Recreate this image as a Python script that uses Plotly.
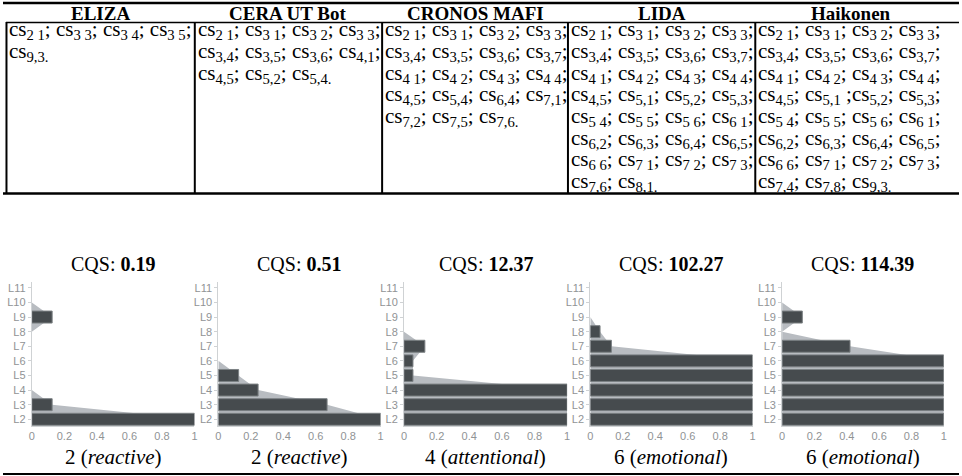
import plotly.graph_objects as go

W, H = 962, 476

# ---------------- data ----------------
systems = ["ELIZA", "CERA UT Bot", "CRONOS MAFI", "LIDA", "Haikonen"]
cqs_scores = [0.19, 0.51, 12.37, 102.27, 114.39]
cs_levels = [2, 2, 4, 6, 6]
cs_level_names = ["reactive", "reactive", "attentional", "emotional", "emotional"]

levels = ["L2", "L3", "L4", "L5", "L6", "L7", "L8", "L9", "L10", "L11"]
eliza_values = [1, 0.125, 0, 0, 0, 0, 0, 0.125, 0, 0]
cera_values = [1, 0.67, 0.245, 0.125, 0, 0, 0, 0, 0, 0]
cronos_values = [1, 1, 1, 0.055, 0.055, 0.128, 0, 0, 0, 0]
lida_values = [1, 1, 1, 1, 1, 0.13, 0.06, 0, 0, 0]
haikonen_values = [1, 1, 1, 1, 1, 0.42, 0, 0.125, 0, 0]

x_tick_values = [0, 0.2, 0.4, 0.6, 0.8, 1]
x_tick_labels = ["0", "0.2", "0.4", "0.6", "0.8", "1"]

eliza_cs = ["cs_{2 1}; cs_{3 3}; cs_{3 4}; cs_{3 5};",
            "cs_{9,3.}"]
cera_cs = ["cs_{2 1}; cs_{3 1}; cs_{3 2}; cs_{3 3};",
           "cs_{3,4}; cs_{3,5}; cs_{3,6}; cs_{4,1};",
           "cs_{4,5}; cs_{5,2}; cs_{5,4.}"]
cronos_cs = ["cs_{2 1}; cs_{3 1}; cs_{3 2}; cs_{3 3};",
             "cs_{3,4}; cs_{3,5}; cs_{3,6}; cs_{3,7};",
             "cs_{4 1}; cs_{4 2}; cs_{4 3}; cs_{4 4};",
             "cs_{4,5}; cs_{5,4}; cs_{6,4}; cs_{7,1};",
             "cs_{7,2}; cs_{7,5}; cs_{7,6.}"]
lida_cs = ["cs_{2 1}; cs_{3 1}; cs_{3 2}; cs_{3 3};",
           "cs_{3,4}; cs_{3,5}; cs_{3,6}; cs_{3,7};",
           "cs_{4 1}; cs_{4 2}; cs_{4 3}; cs_{4 4};",
           "cs_{4,5}; cs_{5,1}; cs_{5,2}; cs_{5,3};",
           "cs_{5 4}; cs_{5 5}; cs_{5 6}; cs_{6 1};",
           "cs_{6,2}; cs_{6,3}; cs_{6,4}; cs_{6,5};",
           "cs_{6 6}; cs_{7 1}; cs_{7 2}; cs_{7 3};",
           "cs_{7,6}; cs_{8,1.}"]
haikonen_cs = ["cs_{2 1}; cs_{3 1}; cs_{3 2}; cs_{3 3};",
               "cs_{3,4}; cs_{3,5}; cs_{3,6}; cs_{3,7};",
               "cs_{4 1}; cs_{4 2}; cs_{4 3}; cs_{4 4};",
               "cs_{4,5}; cs_{5,1} ;cs_{5,2}; cs_{5,3};",
               "cs_{5 4}; cs_{5 5}; cs_{5 6}; cs_{6 1};",
               "cs_{6,2}; cs_{6,3}; cs_{6,4}; cs_{6,5};",
               "cs_{6 6}; cs_{7 1}; cs_{7 2}; cs_{7 3};",
               "cs_{7,4}; cs_{7,8}; cs_{9,3.}"]

all_values = [eliza_values, cera_values, cronos_values, lida_values, haikonen_values]
all_cs = [eliza_cs, cera_cs, cronos_cs, lida_cs, haikonen_cs]

# ---------------- layout helpers ----------------
def fx(px):
    return px / W


def fy(py):
    return 1 - py / H


def markup(s):
    return s.replace("_{", "<sub>").replace("}", "</sub>")


SERIF = "Liberation Serif"
SANS = "Liberation Sans"
BAR_COLOR = "#464b4e"
AREA_COLOR = "#b8bcc1"
AXIS_COLOR = "#cfd2d4"
TICK_FONT_COLOR = "#909395"

plot_left = [29, 216.7, 403.5, 591, 784]
plot_right = [192.7, 380, 567.7, 754.3, 946.7]
plot_top, plot_bottom = 282, 426
col_left = [3.5, 193, 381.5, 568.5, 757]
col_right = [193, 381.5, 568.5, 757, 950]

fig = go.Figure()
layout_axes = {}

for i, vals in enumerate(all_values):
    k = i + 1
    ko = i + 6
    xb = "x" if k == 1 else f"x{k}"
    yb = "y" if k == 1 else f"y{k}"
    # area (base subplot, drawn beneath)
    fig.add_trace(go.Scatter(
        x=vals, y=levels, mode="lines", fill="tozerox",
        fillcolor=AREA_COLOR, line=dict(width=0, color=AREA_COLOR),
        xaxis=xb, yaxis=yb, hoverinfo="skip", showlegend=False))
    # bars (overlay subplot, drawn on top)
    fig.add_trace(go.Bar(
        x=[v if v > 0 else None for v in vals], y=levels, orientation="h",
        marker=dict(color=BAR_COLOR, line=dict(color="#7c8184", width=1)),
        xaxis=f"x{ko}", yaxis=f"y{ko}", showlegend=False))

    dom_x = [fx(plot_left[i]), fx(plot_right[i])]
    dom_y = [fy(plot_bottom), fy(plot_top)]
    yrange = [-0.46, 9.4]
    layout_axes[f"xaxis{k}"] = dict(
        domain=dom_x, range=[0, 1], anchor=yb, showline=True, linecolor=AXIS_COLOR,
        linewidth=1, tickvals=x_tick_values, ticktext=x_tick_labels, ticks="",
        tickfont=dict(family=SANS, size=11, color=TICK_FONT_COLOR),
        showgrid=False, zeroline=False, fixedrange=True)
    layout_axes[f"yaxis{k}"] = dict(
        domain=dom_y, anchor=xb, type="category", categoryorder="array",
        categoryarray=levels, range=yrange, showline=True, linecolor=AXIS_COLOR,
        linewidth=1, ticks="outside", ticklen=3, tickcolor=AXIS_COLOR,
        tickfont=dict(family=SANS, size=11, color=TICK_FONT_COLOR),
        showgrid=False, zeroline=False, fixedrange=True)
    layout_axes[f"xaxis{ko}"] = dict(
        overlaying=xb, range=[0, 1], anchor=f"y{ko}", visible=False,
        fixedrange=True)
    layout_axes[f"yaxis{ko}"] = dict(
        overlaying=yb, anchor=f"x{ko}", type="category", categoryorder="array",
        categoryarray=levels, range=yrange, visible=False, fixedrange=True)

annotations = []
# table headers
for i, name in enumerate(systems):
    annotations.append(dict(
        x=fx((col_left[i] + col_right[i]) / 2), y=fy(13), xref="paper", yref="paper",
        text=f"<b>{name}</b>", showarrow=False, xanchor="center", yanchor="middle",
        font=dict(family=SERIF, size=19, color="black")))
# table body
for i, rows in enumerate(all_cs):
    for r, row in enumerate(rows):
        annotations.append(dict(
            x=fx(col_left[i] + 1), y=fy(30.5 + 21.6 * r), xref="paper", yref="paper",
            text=markup(row), showarrow=False, xanchor="left", yanchor="middle",
            font=dict(family=SERIF, size=21, color="black")))
# CQS titles and level labels
for i in range(5):
    cx = fx((plot_left[i] + plot_right[i]) / 2)
    annotations.append(dict(
        x=cx, y=fy(264), xref="paper", yref="paper",
        text=f"CQS: <b>{cqs_scores[i]:.2f}</b>", showarrow=False,
        xanchor="center", yanchor="middle",
        font=dict(family=SERIF, size=20, color="black")))
    annotations.append(dict(
        x=cx, y=fy(457), xref="paper", yref="paper",
        text=f"{cs_levels[i]} (<i>{cs_level_names[i]}</i>)", showarrow=False,
        xanchor="center", yanchor="middle",
        font=dict(family=SERIF, size=21, color="black")))

shapes = []
def hline(y, x0, x1, w):
    shapes.append(dict(type="line", xref="paper", yref="paper",
                       x0=fx(x0), x1=fx(x1), y0=fy(y), y1=fy(y),
                       line=dict(color="black", width=w)))

def vline(x, y0, y1, w):
    shapes.append(dict(type="line", xref="paper", yref="paper",
                       x0=fx(x), x1=fx(x), y0=fy(y0), y1=fy(y1),
                       line=dict(color="black", width=w)))

hline(3, 0, W, 2.5)
hline(22.5, 3, W, 1.5)
for xv in col_left:
    vline(xv, 22, 193, 2)
hline(193.5, 0, W, 2.5)
hline(474, 0, W, 2)

fig.update_layout(
    width=W, height=H, margin=dict(l=0, r=0, t=0, b=0),
    paper_bgcolor="white", plot_bgcolor="rgba(0,0,0,0)",
    bargap=0.18, showlegend=False,
    annotations=annotations, shapes=shapes,
    **layout_axes)

fig.write_html("out.html",
               config={"displayModeBar": False},
               post_script="document.body.style.margin='0';document.body.style.overflow='hidden';")
